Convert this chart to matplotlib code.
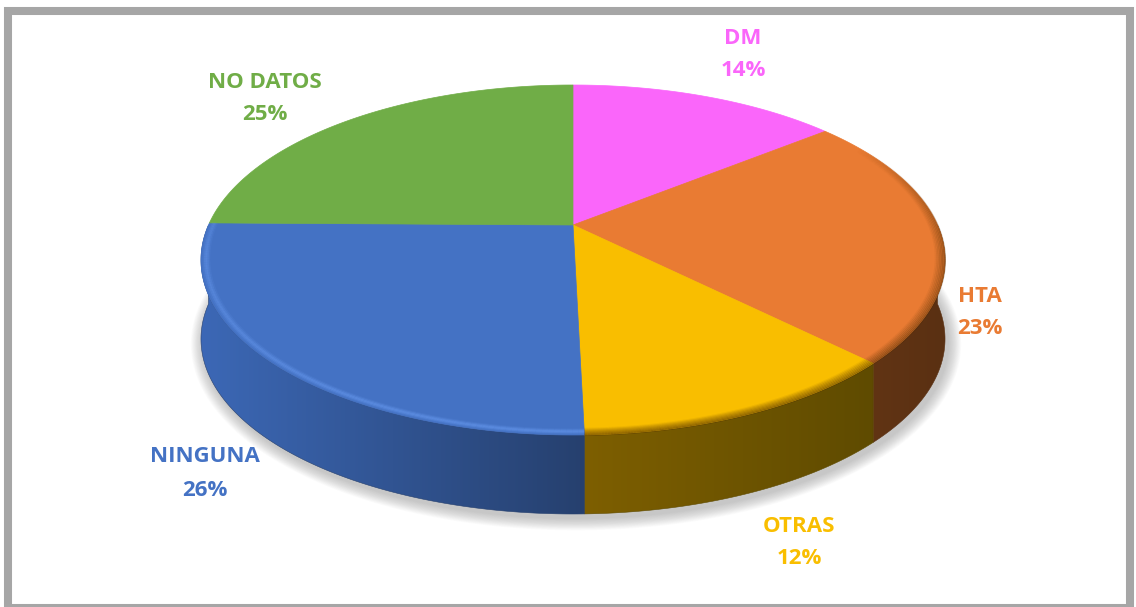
import numpy as np
import matplotlib
matplotlib.use("Agg")
import matplotlib.pyplot as plt
from matplotlib.patches import Polygon, Rectangle
from matplotlib.colors import to_rgb

# ---------------- data ----------------
categories = ['DM', 'HTA', 'OTRAS', 'NINGUNA', 'NO DATOS']
values = [14.2, 23.3, 12.1, 25.6, 24.8]
pct_labels = [f"{round(v)}%" for v in values]

# ---------------- styles ----------------
top_colors = ['#FA66FA', '#E97B33', '#F9BE00', '#4472C4', '#70AD47']
side_left = ['#7A2F7A', '#613414', '#7E5F00', '#3C68B6', '#3C5E26']
side_right = ['#6A286A', '#5A3012', '#5F4B00', '#26406E', '#30501F']
bevel = ['dark', 'dark', 'dark', 'light', 'none']
label_pos = [(743, 39, 71), (980, 296, 328), (799, 526, 558),
             (205, 457, 490), (265, 82, 115)]
FONT = ['Open Sans', 'DejaVu Sans']

W, H = 1136, 607
fig = plt.figure(figsize=(W / 100, H / 100), dpi=100)
ax = fig.add_axes([0, 0, 1, 1])
ax.set_xlim(0, W)
ax.set_ylim(H, 0)
ax.axis('off')

# pie geometry (perspective projection of a disc)
cx, cy = 573, 225
A, B, p = 364.5, 168.0, 0.2
depth = 79


def proj(theta_deg, r=1.0):
    t = np.radians(theta_deg)
    X = r * np.sin(t)
    Z = r * np.cos(t)
    w = 1 + p * Z
    return cx + A * X / w, cy - B * Z / w


total = sum(values)
bounds = np.concatenate([[0], np.cumsum(values) / total * 360])

# ---------------- shadow (soft, under the bottom disc) ----------------
th = np.linspace(0, 360, 361)
bx, by = proj(th)
by = by + depth
bcx, bcy = bx.mean(), by.mean()
for k in range(16, 0, -1):
    sx = bcx + (bx - bcx) * (1 + k * 0.0022) + 3
    sy = bcy + (by - bcy) * (1 + k * 0.004) + 4
    ax.add_patch(Polygon(np.column_stack([sx, sy]), closed=True,
                         facecolor='#808080', edgecolor='none',
                         alpha=0.03, zorder=1))

# ---------------- sides (gradient images clipped to side faces) ----------------
for i in range(len(values)):
    a0, a1 = bounds[i], bounds[i + 1]
    lo, hi = max(a0, 90), min(a1, 270)
    if hi <= lo:
        continue
    ths = np.linspace(lo, hi, 200)
    xs, ys = proj(ths)
    poly = np.column_stack([np.concatenate([xs, xs[::-1]]),
                            np.concatenate([ys, ys[::-1] + depth])])
    xmin, xmax = xs.min(), xs.max()
    ymin, ymax = ys.min(), ys.max() + depth
    cl, cr = np.array(to_rgb(side_left[i])), np.array(to_rgb(side_right[i]))
    tt = np.linspace(0, 1, 256)
    grad = (cl[None, :] * (1 - tt[:, None]) + cr[None, :] * tt[:, None])[None, :, :]
    patch = Polygon(poly, closed=True, facecolor='none', edgecolor='none')
    ax.add_patch(patch)
    im = ax.imshow(grad, extent=(xmin - 1, xmax + 1, ymax + 1, ymin - 1),
                   aspect='auto', interpolation='bilinear', zorder=2)
    im.set_clip_path(patch)
    ax.add_patch(Polygon(poly, closed=True, facecolor='none',
                         edgecolor=side_right[i], linewidth=0.4, zorder=2.1))

# ---------------- top faces ----------------
for i in range(len(values)):
    a0, a1 = bounds[i], bounds[i + 1]
    ths = np.linspace(a0, a1, 200)
    xs, ys = proj(ths)
    pts = np.column_stack([np.concatenate([[cx], xs]),
                           np.concatenate([[cy], ys])])
    ax.add_patch(Polygon(pts, closed=True, facecolor=top_colors[i],
                         edgecolor=top_colors[i], linewidth=0.5, zorder=3))

# ---------------- bevel on front rim ----------------
for i in range(len(values)):
    if bevel[i] == 'none':
        continue
    a0, a1 = bounds[i], bounds[i + 1]
    lo, hi = max(a0, 60), min(a1, 290)
    if hi <= lo:
        continue
    ths = np.linspace(lo, hi, 120)
    fade = np.clip((ths - 60) / 40, 0, 1) * np.clip((290 - ths) / 30, 0, 1)
    for j in range(len(ths) - 1):
        f = 0.5 * (fade[j] + fade[j + 1])
        seg = ths[j:j + 2]
        if bevel[i] == 'light':
            for k, al in [(0, 0.15), (1, 0.35), (2, 0.45), (3, 0.3), (4, 0.12)]:
                xs, ys = proj(seg, 1 - 0.004 * k - 0.006)
                ax.plot(xs, ys, color='#6A9CF2', lw=1.2, alpha=al * f,
                        zorder=4, solid_capstyle='butt')
        else:
            for k in range(7):
                xs, ys = proj(seg, 1 - 0.004 * k)
                ax.plot(xs, ys, color='#4A2A00', lw=1.4,
                        alpha=0.4 * (1 - k / 7) * f, zorder=4,
                        solid_capstyle='butt')

# ---------------- labels ----------------
for i, name in enumerate(categories):
    x, y1, y2 = label_pos[i]
    ax.text(x, y1, name, ha='center', va='center', color=top_colors[i],
            fontsize=16, fontweight='bold', family=FONT, zorder=6)
    ax.text(x, y2, pct_labels[i], ha='center', va='center', color=top_colors[i],
            fontsize=16, fontweight='bold', family=FONT, zorder=6)

# ---------------- frame ----------------
ax.add_patch(Rectangle((8, 11), 1122, 597, facecolor='none',
                       edgecolor='#A6A6A6', linewidth=5.8, zorder=7,
                       joinstyle='miter'))

fig.savefig('out.png', dpi=100)
